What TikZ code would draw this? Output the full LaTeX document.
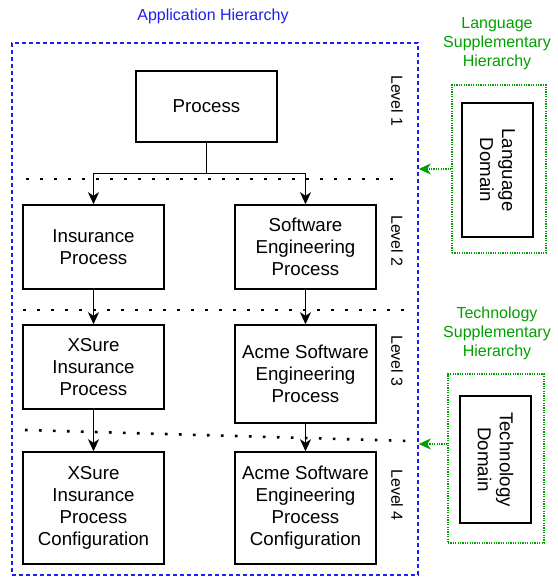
\documentclass[tikz,border=0pt]{standalone}
\usepackage{fontspec}
\setmainfont{Liberation Sans}
\usetikzlibrary{arrows.meta,calc}
\definecolor{appblue}{RGB}{30,30,240}
\definecolor{supgreen}{RGB}{0,160,0}
\begin{document}
\begin{tikzpicture}[x=1pt,y=-1pt,
  procbox/.style={draw,line width=1.5pt,minimum width=141pt,align=center,
    font=\fontsize{18.7}{22}\selectfont,inner sep=0pt},
  domainbox/.style={draw,line width=1.5pt,minimum width=134pt,minimum height=71pt,
    align=center,rotate=-90,font=\fontsize{18.7}{22}\selectfont,inner sep=0pt},
  suppbox/.style={draw=supgreen,line width=1.2pt,dash pattern=on 1.2pt off 1.2pt},
  levelsep/.style={line width=2.6pt,dash pattern=on 2.6pt off 11.4pt},
  levellabel/.style={rotate=-90,font=\fontsize{16}{19}\selectfont},
  greenlabel/.style={text=supgreen,align=center,font=\fontsize{16}{19}\selectfont},
  flow/.style={line width=1.8pt,-{Stealth[length=12pt,width=11pt,inset=3.5pt]}},
  feed/.style={draw=supgreen,line width=1.2pt,dash pattern=on 1.2pt off 1.2pt,
    -{Stealth[length=12pt,width=11pt,inset=3.5pt,fill=supgreen]}}]
\useasboundingbox (0,0) rectangle (557,578);

% application hierarchy frame
\node[draw=appblue,line width=1.5pt,dash pattern=on 4pt off 3pt,
  minimum width=406pt,minimum height=532pt,inner sep=0pt] (app) at (215,309) {};
\node[text=appblue,font=\fontsize{16}{19}\selectfont] (apptitle) at (213,16) {Application Hierarchy};

% level separators
\coordinate (s1a) at (26,179);  \coordinate (s1b) at (395,179);
\coordinate (s2a) at (23,310);  \coordinate (s2b) at (407,310);
\coordinate (s3a) at (25,430);  \coordinate (s3b) at (410,441);
\draw[levelsep] (s1a) -- (s1b);
\draw[levelsep] (s2a) -- (s2b);
\draw[levelsep] (s3a) -- (s3b);

% process boxes
\node[procbox,minimum height=71pt] (proc) at (206.5,106.5) {Process};
\node[procbox,minimum height=84pt] (ins) at (93.5,247) {Insurance\\Process};
\node[procbox,minimum height=84pt] (swe) at (305.5,247) {Software\\Engineering\\Process};
\node[procbox,minimum height=84pt] (xs) at (93.5,367) {XSure\\Insurance\\Process};
\node[procbox,minimum height=98pt] (acme) at (305.5,374) {Acme Software\\Engineering\\Process};
\node[procbox,minimum height=112pt] (xsc) at (93.5,508) {XSure\\Insurance\\Process\\Configuration};
\node[procbox,minimum height=112pt] (acmec) at (305.5,508) {Acme Software\\Engineering\\Process\\Configuration};

% connectors
\coordinate (split) at (206.5,173.5);
\draw[line width=1.8pt] (proc.south) -- (split);
\draw[flow] (split) -| (ins.north);
\draw[flow] (split) -| (swe.north);
\draw[flow] (ins.south) -- (xs.north);
\draw[flow] (swe.south) -- (acme.north);
\draw[flow] (xs.south) -- (xsc.north);
\draw[flow] (acme.south) -- (acmec.north);

% level labels
\node[levellabel] (lv1) at (397,101) {Level 1};
\node[levellabel] (lv2) at (397,241) {Level 2};
\node[levellabel] (lv3) at (397,361) {Level 3};
\node[levellabel] (lv4) at (397,495) {Level 4};

% language supplementary hierarchy
\node[greenlabel] (langtitle) at (497,44) {Language\\Supplementary\\Hierarchy};
\node[suppbox,minimum width=94pt,minimum height=168pt,inner sep=0pt] (langsup) at (499,169) {};
\node[domainbox] (lang) at (497.5,170) {Language\\Domain};
\draw[feed] (langsup.west) -- (langsup.west -| app.east);

% technology supplementary hierarchy
\node[greenlabel] (techtitle) at (497,333) {Technology\\Supplementary\\Hierarchy};
\node[suppbox,minimum width=96pt,minimum height=169pt,inner sep=0pt] (techsup) at (496,458.5) {};
\node[domainbox,minimum width=127pt] (tech) at (495.5,459.5) {Technology\\Domain};
\draw[feed] (techsup.west |- 0,444) -- (app.east |- 0,444);
\end{tikzpicture}
\end{document}
